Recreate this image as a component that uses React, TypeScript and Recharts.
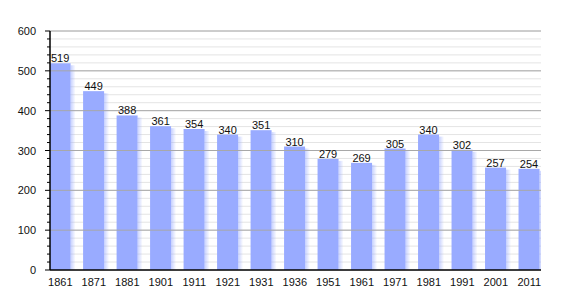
import { BarChart, Bar, XAxis, YAxis, CartesianGrid, ReferenceLine, LabelList } from "recharts";

const years = ["1861", "1871", "1881", "1901", "1911", "1921", "1931", "1936", "1951", "1961", "1971", "1981", "1991", "2001", "2011"];
const population = [519, 449, 388, 361, 354, 340, 351, 310, 279, 269, 305, 340, 302, 257, 254];
const yTicks = [0, 20, 40, 60, 80, 100, 120, 140, 160, 180, 200, 220, 240, 260, 280, 300, 320, 340, 360, 380, 400, 420, 440, 460, 480, 500, 520, 540, 560, 580, 600];
const majorTicks = [100, 200, 300, 400, 500, 600];

const data = population.map((value, i) => ({ i, year: years[i], value }));

const BAR_COLOR = "#99abff";
const FONT = "'Liberation Sans', Arial, sans-serif";

function YTick(props: any) {
    const { x, y, payload } = props;
    const major = payload.value % 100 === 0;
    return (
        <g>
            <line x1={x - (major ? 5 : 3)} x2={x} y1={y} y2={y} stroke="#000" strokeWidth={1} />
            {major && (
                <text x={x - 14} y={y} dy={4} textAnchor="end" fontSize={11} fontFamily={FONT} fill="#111">
                    {payload.value}
                </text>
            )}
        </g>
    );
}

function ShadowBar(props: any) {
    const { x, y, width, height } = props;
    if (!height || height <= 0) return null;
    return (
        <g>
            <rect x={x + width} y={y + 2} width={5} height={height - 2} fill="url(#barShadow)" />
            <rect x={x} y={y} width={width} height={height} fill={BAR_COLOR} />
        </g>
    );
}

export default function App() {
    return (
        <div style={{ position: "absolute", left: 0, top: 0, width: 570, height: 300, background: "#fff" }}>
            <svg width={0} height={0} style={{ position: "absolute" }}>
                <defs>
                    <linearGradient id="barShadow" x1="0" x2="1" y1="0" y2="0">
                        <stop offset="0%" stopColor={BAR_COLOR} stopOpacity={0.55} />
                        <stop offset="100%" stopColor={BAR_COLOR} stopOpacity={0} />
                    </linearGradient>
                </defs>
            </svg>
            <BarChart width={570} height={300} data={data} margin={{ top: 31, right: 29, bottom: 0, left: 0 }}>
                <CartesianGrid vertical={false} stroke="#e4e4e4" strokeWidth={1} />
                {majorTicks.map((v) => (
                    <ReferenceLine key={v} y={v} stroke="#a8a8a8" strokeWidth={1} />
                ))}
                <XAxis
                    type="number"
                    dataKey="i"
                    domain={[-0.309, 14.35]}
                    allowDataOverflow
                    ticks={data.map((d) => d.i)}
                    tickFormatter={(v: number) => years[v]}
                    interval={0}
                    axisLine={{ stroke: "#000", strokeWidth: 1.5 }}
                    tickLine={false}
                    tickMargin={2}
                    height={30}
                    tick={{ fontSize: 11, fontFamily: FONT, fill: "#111" }}
                />
                <YAxis
                    domain={[0, 600]}
                    ticks={yTicks}
                    interval={0}
                    width={50}
                    axisLine={{ stroke: "#000", strokeWidth: 1.5 }}
                    tickLine={false}
                    tickSize={0}
                    tickMargin={0}
                    tick={<YTick />}
                />
                <Bar dataKey="value" barSize={21} fill={BAR_COLOR} shape={<ShadowBar />} isAnimationActive={false}>
                    <LabelList dataKey="value" position="top" offset={1} fontSize={11} fontFamily={FONT} fill="#111" />
                </Bar>
            </BarChart>
        </div>
    );
}
